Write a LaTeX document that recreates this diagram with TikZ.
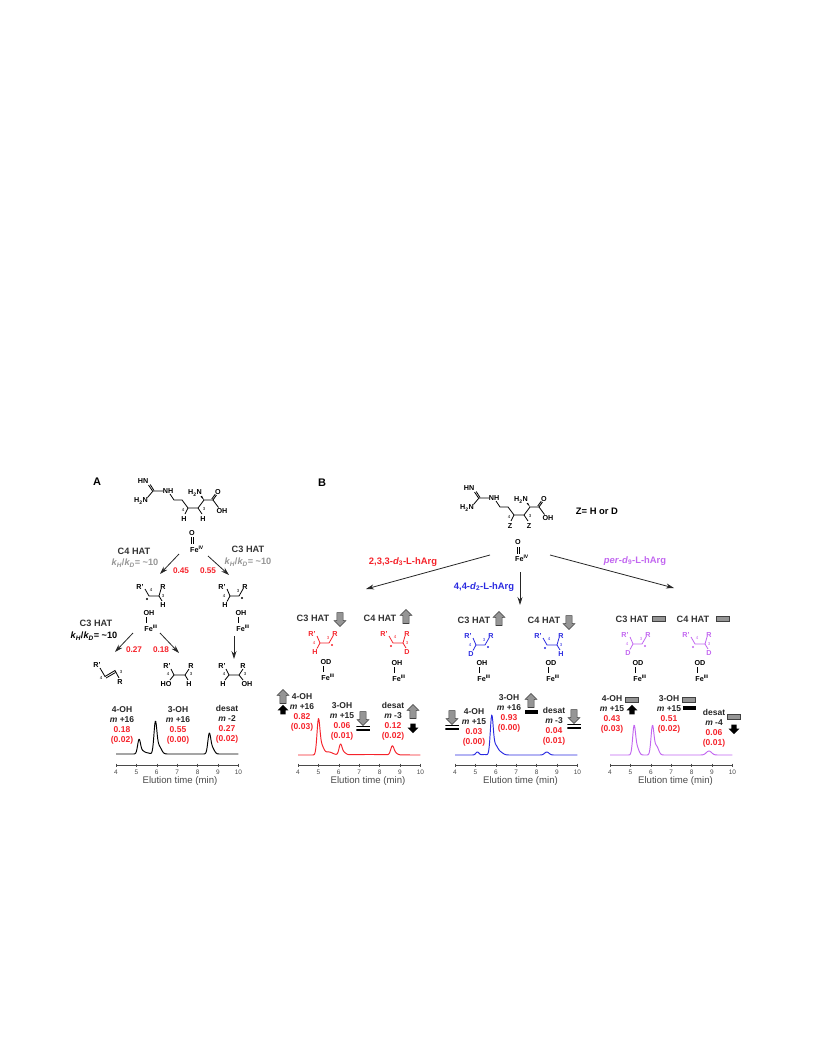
\documentclass[tikz,border=0pt]{standalone}
\usepackage{fontspec}
\setmainfont{Liberation Sans}
\usetikzlibrary{arrows.meta,shapes.arrows}
\definecolor{hred}{HTML}{F5222A}
\definecolor{hblue}{HTML}{2A2AE0}
\definecolor{hpurple}{HTML}{C266F0}
\definecolor{hgrey}{HTML}{959595}
\definecolor{axisgrey}{HTML}{4A4A4A}
\tikzset{
	panel/.style= {font=\bfseries\fontsize{11}{12}\selectfont, inner sep=0},
	atom/.style= {font=\bfseries\fontsize{7.2}{8}\selectfont, inner sep=0},
	num/.style= {font=\fontsize{4.4}{5}\selectfont, inner sep=0},
	bond/.style= {line width=0.8pt},
	hat/.style= {font=\bfseries\fontsize{9.2}{10}\selectfont, text=black!80, inner sep=0},
	kie/.style= {font=\bfseries\fontsize{9.2}{10}\selectfont, inner sep=0},
	frac/.style= {font=\bfseries\fontsize{8.2}{10}\selectfont, text=hred, inner sep=0},
	iso/.style= {font=\bfseries\fontsize{9.4}{11}\selectfont, inner sep=0},
	quant/.style= {font=\bfseries\fontsize{8.5}{10}\selectfont, align=center, anchor=north, inner sep=0, text=black!85},
	rxn/.style= {-{Stealth[length=8pt,width=5pt]}, line width=0.8pt, black!85},
	tick/.style= {font=\fontsize{6.5}{7}\selectfont, text=axisgrey, inner sep=0},
	axislabel/.style= {font=\fontsize{9.6}{11}\selectfont, text=axisgrey, inner sep=0},
	% up and down markers
	blockarrow/.style= {single arrow, inner sep=0, text width=5.6pt, text height=1pt, text depth=0pt, minimum width=11.5pt, minimum height=14pt, single arrow head extend=2.8pt, single arrow tip angle=90},
	greyup/.style= {blockarrow, draw=black!75, fill=hgrey, line width=0.6pt, shape border rotate=90},
	greydown/.style= {blockarrow, draw=black!75, fill=hgrey, line width=0.6pt, shape border rotate=270},
	blackup/.style= {blockarrow, fill=black, text width=4.8pt, minimum width=10pt, minimum height=9.5pt, shape border rotate=90},
	blackdown/.style= {blockarrow, fill=black, text width=4.8pt, minimum width=10pt, minimum height=9.5pt, shape border rotate=270},
	greybar/.style= {draw=black!75, fill=hgrey, line width=0.6pt, inner sep=0, minimum width=13.5pt, minimum height=5pt},
	blackbar/.style= {fill=black, inner sep=0, minimum width=13pt, minimum height=4.5pt},
	eqbars/.style= {inner sep=0, minimum width=13.5pt, minimum height=5pt, draw=none, path picture={
		\fill[black] (path picture bounding box.north west) rectangle ([yshift=-1.8pt]path picture bounding box.north east);
		\fill[black] (path picture bounding box.south west) rectangle ([yshift=1.8pt]path picture bounding box.south east);}},
}
% exp. peak used for the traces
\pgfmathdeclarefunction{pk}{3}{\pgfmathparse{exp(-(((#1-#2)/#3)^2))}}
% homoarginine skeleton: name, shift, substituent
\newcommand{\hArg}[3]{
	\begin{scope}[shift={(#2)}]
		\node[atom] (#1HN) at (143,481) {HN};
		\node[atom] (#1HtwoN) at (141,501) {H\textsubscript{2}N};
		\node[atom] (#1NH) at (168,491) {NH};
		\node[atom] (#1Nalpha) at (195,493) {H\textsubscript{2}N};
		\node[atom] (#1O) at (218,492) {O};
		\node[atom] (#1OH) at (222,511) {OH};
		\node[atom] (#1ZA) at (184,519) {#3};
		\node[atom] (#1ZB) at (203,519) {#3};
		\node[num] (#1nfour) at (183,510) {4};
		\node[num] (#1nthree) at (204,509) {3};
		\draw[bond] (148.5,485) -- (152.5,491) (150.2,484.5) -- (154,490.5);
		\draw[bond] (147.5,497.5) -- (153,491) -- (163,491);
		\draw[bond] (170,494) -- (174,500) -- (182,500) -- (188,508) -- (198,508) -- (204,500) -- (213,500);
		\draw[bond] (188,508) -- (185,514) (198,508) -- (202,514);
		\draw[bond] (213,500) -- (216.5,495) (211.8,499) -- (215.2,494.2);
		\draw[bond] (213,500) -- (218.5,507.5);
		\fill (204,500) -- (200.5,496.5) -- (202,495.8) -- cycle;
	\end{scope}
}
% radical on C3: name, shift, colour, substituent on C4
\newcommand{\radThree}[4]{
	\begin{scope}[shift={(#2)}, #3, text=#3]
		\node[atom] (#1Rp) at (0,0) {R'};
		\node[atom] (#1R) at (23,0) {R};
		\node[atom] (#1sub) at (3,18) {#4};
		\node[num] (#1nfour) at (2,9) {4};
		\node[num] (#1nthree) at (16,4) {3};
		\draw[bond] (5,2) -- (8,9) -- (17,9) -- (21,2);
		\draw[bond] (8,9) -- (5,14.5);
		\fill (20,11) circle (1.1);
	\end{scope}
}
% radical on C4: name, shift, colour, substituent on C3
\newcommand{\radFour}[4]{
	\begin{scope}[shift={(#2)}, #3, text=#3]
		\node[atom] (#1Rp) at (0,0) {R'};
		\node[atom] (#1R) at (23,0) {R};
		\node[atom] (#1sub) at (23,18) {#4};
		\node[num] (#1nfour) at (11,3) {4};
		\node[num] (#1nthree) at (23,9) {3};
		\draw[bond] (5,2) -- (9,9) -- (19,9) -- (21,2);
		\draw[bond] (19,9) -- (22,14);
		\fill (7,12) circle (1.1);
	\end{scope}
}
% iron with bound oxygen: name, x, y, ligand
\newcommand{\feThree}[4]{
	\node[atom] (#1L) at (#2,#3) {#4};
	\node[atom] (#1Fe) at (#2+2,#3+15) {Fe\textsuperscript{III}};
	\draw[line width=0.6pt] (#2-3,#3+4) -- (#2-3,#3+10);
}
% label stack above a peak: name, top centre, product, mass, fraction, error
\newcommand{\quantBox}[6]{
	\node[quant] (#1) at (#2) {#3\\\textit{m} #4\\\textcolor{hred}{#5}\\\textcolor{hred}{#6}};
}
% time axis: name, left end, shift of its label
\newcommand{\timeAxis}[3]{
	\draw[axisgrey, line width=0.9pt] (#2,765) -- (#2+122.4,765);
	\foreach \t in {4,...,10} {
		\draw[axisgrey, line width=0.5pt] (#2+20.4*\t-81.6,763.5) -- (#2+20.4*\t-81.6,766.8);
		\node[tick] (#1t\t) at (#2+20.4*\t-81.6,772.5) {\t};
	}
	\node[axislabel] (#1lab) at (#2+#3,781.5) {Elution time (min)};
}
% trace: colour, left end, baseline, sum of peaks
\newcommand{\trace}[4]{
	\draw[#1, line width=0.95pt, line join=round] plot[domain=4:10, samples=241] ({#2+20.4*(\x-4)},{#3-(#4)});
}
\begin{document}
\begin{tikzpicture}[x=1pt,y=-1pt]
	\useasboundingbox (0,0) rectangle (816,1056);
	%% Panel A
	\node[panel] (A) at (97,482) {A};
	\hArg{a}{0,0}{H}
	\node[atom] (aO) at (192,533) {O};
	\node[atom] (aFe) at (197,549) {Fe\textsuperscript{IV}};
	\draw[line width=0.6pt] (191,537) -- (191,543.5) (193,537) -- (193,543.5);
	\node[hat] (aCfour) at (134,551) {C4 HAT};
	\node[kie, text=hgrey] (aKfour) at (135,563) {\textit{k\textsubscript{H}}/\textit{k\textsubscript{D}}= \textasciitilde10};
	\node[hat] (aCthree) at (248,549) {C3 HAT};
	\node[kie, text=hgrey] (aKthree) at (248,562) {\textit{k\textsubscript{H}}/\textit{k\textsubscript{D}}= \textasciitilde10};
	\node[frac] (aFa) at (181,571) {0.45};
	\node[frac] (aFb) at (208,571) {0.55};
	\coordinate (aLa) at (179,554);
	\coordinate (aLb) at (160,574);
	\coordinate (aRa) at (208,556);
	\coordinate (aRb) at (229,575);
	\draw[rxn] (aLa) -- (aLb);
	\draw[rxn] (aRa) -- (aRb);
	\radFour{aRadL}{140,587}{black}{H}
	\radThree{aRadR}{222,587}{black}{H}
	\feThree{aFeL}{149}{613}{OH}
	\feThree{aFeR}{241}{613}{OH}
	% second step
	\node[hat] (aCthreeB) at (96,623) {C3 HAT};
	\node[kie] (aKthreeB) at (94,636) {\textit{k\textsubscript{H}}/\textit{k\textsubscript{D}}= \textasciitilde10};
	\node[frac] (aFc) at (134,650) {0.27};
	\node[frac] (aFd) at (161,650) {0.18};
	\coordinate (aSa) at (133,633);
	\coordinate (aSb) at (115,652);
	\coordinate (aSc) at (160,633);
	\coordinate (aSd) at (179,653);
	\coordinate (aSe) at (234,636);
	\coordinate (aSf) at (234,659);
	\draw[rxn] (aSa) -- (aSb);
	\draw[rxn] (aSc) -- (aSd);
	\draw[rxn] (aSe) -- (aSf);
	% products
	\node[atom] (pRpa) at (97,665) {R'};
	\node[atom] (pRa) at (120,682) {R};
	\node[num] (pFa) at (101,678) {4};
	\node[num] (pTa) at (121,672) {3};
	\draw[bond] (100,668) -- (105,676.5) -- (115,670.5) -- (119,678);
	\draw[bond] (106,678) -- (115.5,672.5);
	\node[atom] (pRpb) at (167,666) {R'};
	\node[atom] (pRb) at (191,666) {R};
	\node[atom] (pHOb) at (166,684) {HO};
	\node[atom] (pHb) at (189,684) {H};
	\node[num] (pFb) at (168,674) {4};
	\node[num] (pTb) at (191,674) {3};
	\draw[bond] (171,669) -- (174,675) -- (185,675) -- (189,669);
	\draw[bond] (174,675) -- (170,680) (185,675) -- (188,680);
	\node[atom] (pRpc) at (222,666) {R'};
	\node[atom] (pRc) at (243,666) {R};
	\node[atom] (pHc) at (223,684) {H};
	\node[atom] (pOHc) at (247,684) {OH};
	\node[num] (pFc) at (224,674) {4};
	\node[num] (pTc) at (245,674) {3};
	\draw[bond] (226,669) -- (229,675) -- (239,675) -- (243,669);
	\draw[bond] (229,675) -- (225,680) (239,675) -- (243,680);
	% chromatogram
	\quantBox{aQa}{122,706.5}{4-OH}{+16}{0.18}{(0.02)}
	\quantBox{aQb}{178,706.5}{3-OH}{+16}{0.55}{(0.00)}
	\quantBox{aQc}{227,705.5}{desat}{-2}{0.27}{(0.02)}
	\trace{black}{116}{754}{14*pk(\x,5.13,0.1)+3*pk(\x,5.3,0.15)+1*pk(\x,5.55,0.15)+30*pk(\x,5.93,0.1)+8*pk(\x,6.1,0.17)+19*pk(\x,8.57,0.1)+6*pk(\x,8.72,0.14)}
	\timeAxis{aAx}{116}{64}
	%% Panel B
	\node[panel] (B) at (322,483) {B};
	\hArg{b}{326,7}{Z}
	\node[iso] (bZ) at (597,511) {Z= H or D};
	\node[atom] (bO) at (518,542) {O};
	\node[atom] (bFe) at (522,558) {Fe\textsuperscript{IV}};
	\draw[line width=0.6pt] (517,547) -- (517,554) (519,547) -- (519,554);
	\coordinate (bRa) at (490,555);
	\coordinate (bRb) at (366,589);
	\coordinate (bBa) at (520,572);
	\coordinate (bBb) at (520,605);
	\coordinate (bPa) at (550,555);
	\coordinate (bPb) at (674,588);
	\draw[rxn] (bRa) -- (bRb);
	\draw[rxn] (bBa) -- (bBb);
	\draw[rxn] (bPa) -- (bPb);
	\node[iso, text=hred] (isoRed) at (403,562) {2,3,3-\textit{d}\textsubscript{3}-L-hArg};
	\node[iso, text=hblue] (isoBlue) at (484,587) {4,4-\textit{d}\textsubscript{2}-L-hArg};
	\node[iso, text=hpurple] (isoPurple) at (635,561) {\textit{per}-\textit{d}\textsubscript{9}-L-hArg};
	% headers
	\node[hat] (rHa) at (313,618) {C3 HAT};
	\node[greydown] (rHaM) at (340,618) {};
	\node[hat] (rHb) at (380,618) {C4 HAT};
	\node[greyup] (rHbM) at (406,618) {};
	\node[hat] (uHa) at (474,620.5) {C3 HAT};
	\node[greyup] (uHaM) at (499,620) {};
	\node[hat] (uHb) at (544,620.5) {C4 HAT};
	\node[greydown] (uHbM) at (569,621) {};
	\node[hat] (pHa) at (632,619) {C3 HAT};
	\node[greybar] (pHaM) at (659,619) {};
	\node[hat] (pHb) at (693,619) {C4 HAT};
	\node[greybar] (pHbM) at (723,619) {};
	% intermediates
	\radThree{rRa}{312,634}{hred}{H}
	\radFour{rRb}{384,634}{hred}{D}
	\radThree{uRa}{468,636}{hblue}{D}
	\radFour{uRb}{538,636}{hblue}{H}
	\radThree{pRa}{625,635}{hpurple}{D}
	\radFour{pRb}{686,635}{hpurple}{D}
	\feThree{rFa}{326}{662}{OD}
	\feThree{rFb}{397}{663}{OH}
	\feThree{uFa}{482}{663}{OH}
	\feThree{uFb}{551}{663}{OD}
	\feThree{pFa}{638}{663}{OD}
	\feThree{pFb}{700}{663}{OD}
	% red chromatogram
	\quantBox{rQa}{302,693.5}{4-OH}{+16}{0.82}{(0.03)}
	\quantBox{rQb}{342,702.5}{3-OH}{+15}{0.06}{(0.01)}
	\quantBox{rQc}{393,702.5}{desat}{-3}{0.12}{(0.02)}
	\node[greyup] (rMa) at (283,698) {};
	\node[blackup] (rMb) at (283,711) {};
	\node[greydown] (rMc) at (363,717) {};
	\node[eqbars] (rMd) at (363,728) {};
	\node[greyup] (rMe) at (413,713) {};
	\node[blackdown] (rMf) at (413,727) {};
	\trace{hred}{298}{755}{33*pk(\x,5,0.1)+9*pk(\x,5.15,0.15)+3*pk(\x,5.5,0.27)+9*pk(\x,6.08,0.1)+3*pk(\x,6.2,0.17)+8*pk(\x,8.62,0.11)+2*pk(\x,8.75,0.15)+0.5*pk(\x,7.5,1.2)}
	\timeAxis{rAx}{298}{70}
	% blue chromatogram
	\quantBox{uQa}{474,708.5}{4-OH}{+15}{0.03}{(0.00)}
	\quantBox{uQb}{509,694.5}{3-OH}{+16}{0.93}{(0.00)}
	\quantBox{uQc}{554,707.5}{desat}{-3}{0.04}{(0.01)}
	\node[greydown] (uMa) at (452,716) {};
	\node[eqbars] (uMb) at (452,727) {};
	\node[greyup] (uMc) at (531,702) {};
	\node[blackbar] (uMd) at (531,712) {};
	\node[greydown] (uMe) at (574,715) {};
	\node[eqbars] (uMf) at (574,726) {};
	\trace{hblue}{455}{755}{3*pk(\x,5.1,0.11)+0.5*pk(\x,5.45,0.15)+37*pk(\x,5.8,0.1)+9*pk(\x,5.97,0.16)+3*pk(\x,6.2,0.2)+3*pk(\x,8.5,0.15)}
	\timeAxis{uAx}{455}{65.5}
	% purple chromatogram
	\quantBox{pQa}{612,695.5}{4-OH}{+15}{0.43}{(0.03)}
	\quantBox{pQb}{669,695.5}{3-OH}{+15}{0.51}{(0.02)}
	\quantBox{pQc}{714,709.5}{desat}{-4}{0.06}{(0.01)}
	\node[greybar] (pMa) at (632,700) {};
	\node[blackup] (pMb) at (632,711) {};
	\node[greybar] (pMc) at (689,700) {};
	\node[blackbar] (pMd) at (689,708) {};
	\node[greybar] (pMe) at (734,717) {};
	\node[blackdown] (pMf) at (734,728) {};
	\trace{hpurple}{610}{755}{28*pk(\x,5.18,0.1)+7*pk(\x,5.33,0.13)+28*pk(\x,6.08,0.1)+9*pk(\x,6.27,0.15)+4*pk(\x,8.85,0.18)}
	\timeAxis{pAx}{610}{65.5}
\end{tikzpicture}
\end{document}
